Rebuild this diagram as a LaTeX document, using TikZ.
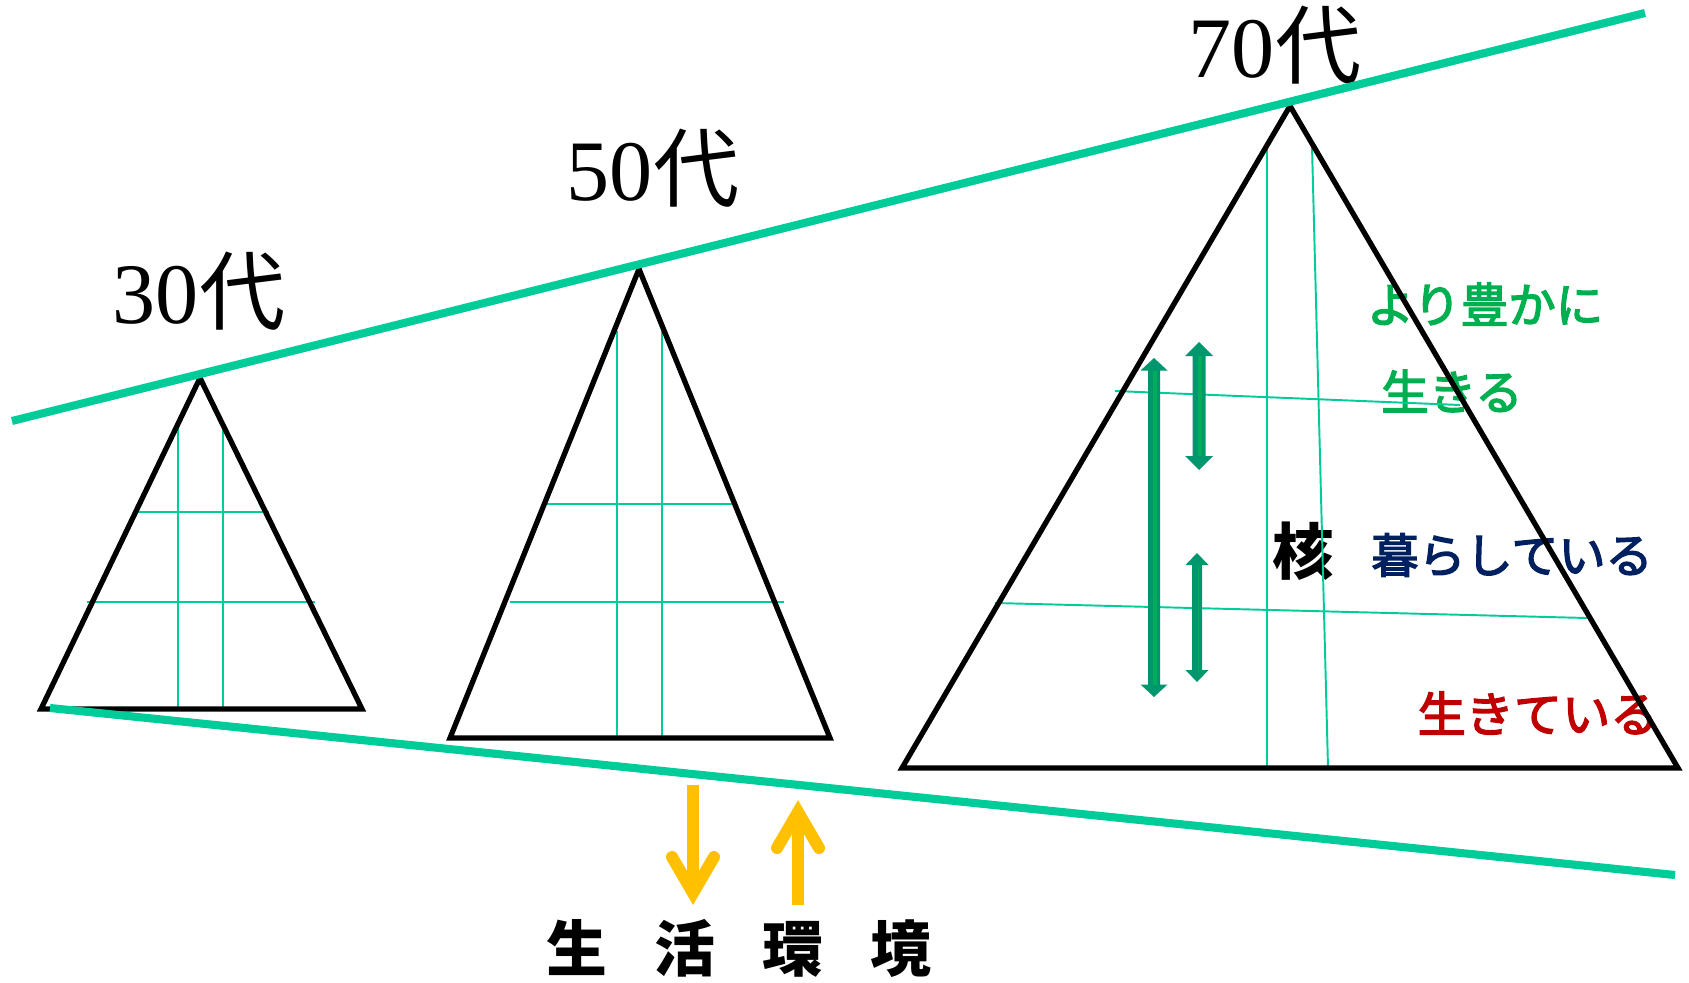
\documentclass[tikz,border=0pt]{standalone}
\usepackage{fontspec}
\setmainfont{Liberation Serif}
\newfontfamily\jp{Noto Sans CJK JP}
\newfontfamily\jpm{Noto Sans CJK JP}[FakeBold=3]
\definecolor{lineg}{HTML}{00CC99}
\definecolor{arrg}{HTML}{00966E}
\definecolor{arrlight}{HTML}{00AE5A}
\definecolor{txtg}{HTML}{00B050}
\definecolor{txtb}{HTML}{002060}
\definecolor{txtr}{HTML}{C00000}
\definecolor{yel}{HTML}{FFC000}
\tikzset{
  bigline/.style={draw=lineg, line width=2.3pt},
  gridline/.style={draw=lineg, line width=0.55pt},
  tri/.style={draw=black, line width=1.5pt, line join=miter},
  agelabel/.style={anchor=base, inner sep=0pt, font=\fontsize{24.5}{26}\selectfont},
  jplabel/.style={inner sep=0pt, font=\jpm\fontsize{13.5}{16}\selectfont},
  yelarrow/.style={draw=yel, line width=3.4pt},
  yelhead/.style={draw=yel, line width=3.4pt, line cap=round, line join=miter},
}
% double-headed block arrow: x, ytop, ybottom, shaft half width, head half width, head length, stripe
\newcommand\dgarrow[7]{%
  \fill[arrg] (#1,#2) -- (#1+#5,#2+#6) -- (#1+#4,#2+#6) -- (#1+#4,#3-#6) -- (#1+#5,#3-#6)
    -- (#1,#3) -- (#1-#5,#3-#6) -- (#1-#4,#3-#6) -- (#1-#4,#2+#6) -- (#1-#5,#2+#6) -- cycle;
  \draw[arrlight, line width=#7] (#1+1,#2+#6) -- (#1+1,#3-#6);
}
\begin{document}
\begin{tikzpicture}[x=0.01cm,y=-0.01cm]
\useasboundingbox (0,0) rectangle (1689,982);
\fill[white] (0,0) rectangle (1689,982);

% ---------- texts ----------
\node[agelabel] (t30) at (199,323) {30{\jp 代}};
\node[agelabel] (t50) at (653,200) {50{\jp 代}};
\node[agelabel] (t70) at (1275,78) {70{\jp 代}};

\node[jplabel, text=txtg] (yori) at (1485,304) {より豊かに};
\node[jplabel, text=txtg] (ikiru) at (1452,391) {生きる};
\node[inner sep=0pt, font=\jp\bfseries\fontsize{17.5}{20}\selectfont] (kaku) at (1303,551) {核};
\node[jplabel, text=txtb, font=\jpm\fontsize{13.4}{16}\selectfont] (kurashi) at (1512,555) {暮らしている};
\node[jplabel, text=txtr, font=\jpm\fontsize{13.7}{16}\selectfont] (ikiteiru) at (1538,713) {生きている};
\node[inner sep=0pt, font=\jp\bfseries\fontsize{17.3}{20}\selectfont] (kankyo) at (739,948)
  {生\hspace{0.47cm}活\hspace{0.47cm}環\hspace{0.47cm}境};

% ---------- coordinates ----------
\coordinate (TL) at (12,421);
\coordinate (TR) at (1645,13);
\coordinate (BL) at (50,708);
\coordinate (BR) at (1675,875);

\coordinate (A30) at (200,378);
\coordinate (L30) at (41,709);
\coordinate (R30) at (362,709);
\coordinate (A50) at (639,269);
\coordinate (L50) at (450,738);
\coordinate (R50) at (830,738);
\coordinate (A70) at (1290,106);
\coordinate (L70) at (902,768);
\coordinate (R70) at (1678,768);

% ---------- grid lines ----------
\draw[gridline] (178,421) -- (178,709);
\draw[gridline] (223,421) -- (223,709);
\draw[gridline] (133,512) -- (269,512);
\draw[gridline] (87,602) -- (315,602);

\draw[gridline] (617,331) -- (617,738);
\draw[gridline] (662,331) -- (662,738);
\draw[gridline] (544,504) -- (735,504);
\draw[gridline] (510,602) -- (784,602);

\draw[gridline] (1267,148) -- (1267,768);
\draw[gridline] (1312,147) -- (1328,768);
\draw[gridline] (1115,391) -- (1460,405);
\draw[gridline] (995,603) -- (1587,618);

% ---------- triangles ----------
\draw[tri] (A30) -- (L30) -- (R30) -- cycle;
\draw[tri] (A50) -- (L50) -- (R50) -- cycle;
\draw[tri] (A70) -- (L70) -- (R70) -- cycle;

% ---------- envelope lines ----------
\draw[bigline] (TL) -- (TR);
\draw[bigline] (BL) -- (BR);

% ---------- dark green double arrows ----------
\dgarrow{1154}{358}{697}{6}{13.5}{12.5}{1.2pt}
\dgarrow{1199}{342}{470}{6.5}{14}{14}{1.1pt}
\dgarrow{1197}{553}{682}{5}{11.5}{12}{0pt}

% ---------- yellow arrows ----------
\coordinate (d0) at (693,785);
\coordinate (d1) at (693,893);
\draw[yelarrow] (d0) -- (d1);
\draw[yelhead] (672,857) -- (d1) -- (714,857);

\coordinate (u0) at (798,905);
\coordinate (u1) at (798,812);
\draw[yelarrow] (u0) -- (u1);
\draw[yelhead] (777,848) -- (u1) -- (819,848);
\end{tikzpicture}
\end{document}
